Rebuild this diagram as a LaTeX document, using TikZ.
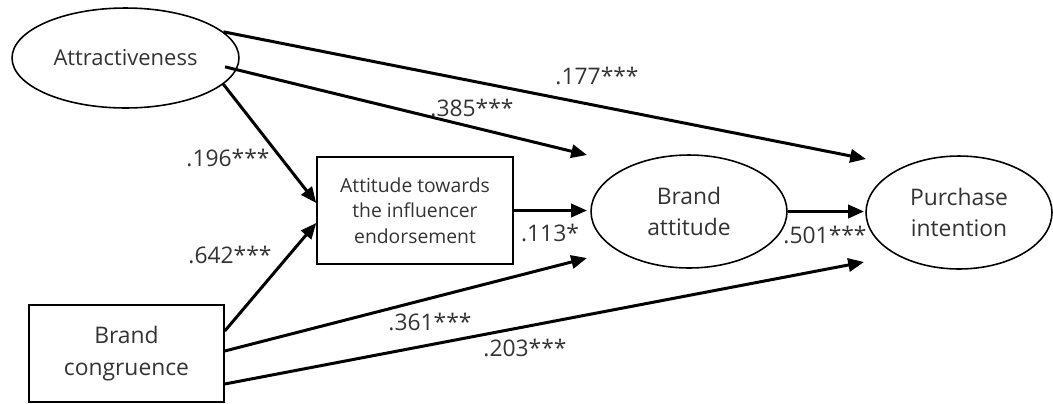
\documentclass[tikz,border=0pt]{standalone}
\usepackage{fontspec}
\setmainfont{Open Sans}
\usetikzlibrary{arrows.meta,shapes.geometric}

\begin{document}
\begin{tikzpicture}[
    x=0.02cm, y=-0.02cm,
    path/.style={line width=1.7pt, -{Triangle[length=9pt, width=7.5pt]}},
    latent/.style={ellipse, draw, line width=0.9pt, inner sep=0pt,
                   align=center, text=black!80,
                   font=\fontsize{13}{18}\selectfont},
    observed/.style={rectangle, draw, line width=0.9pt, inner sep=0pt,
                     align=center, text=black!80},
    coef/.style={font=\fontsize{13}{15}\selectfont, text=black!80, inner sep=0pt}
]
\useasboundingbox (0,0) rectangle (1053,403);

% =========================================================
% CONSTRUCTS
% =========================================================
\node[latent, minimum width=4.54cm, minimum height=2cm,
      font=\fontsize{12.5}{16}\selectfont] (attr) at (125.5,58) {Attractiveness};
\node[observed, minimum width=3.92cm, minimum height=2.14cm,
      font=\fontsize{11}{14.5}\selectfont] (att) at (415,210.5)
      {Attitude towards\\the influencer\\endorsement};
\node[latent, minimum width=3.92cm, minimum height=2.26cm] (ba) at (689,211.5)
      {Brand\\attitude};
\node[latent, minimum width=3.72cm, minimum height=2.26cm] (pi) at (959,212.5)
      {Purchase\\intention};
\node[observed, minimum width=3.9cm, minimum height=1.94cm,
      font=\fontsize{13}{18}\selectfont] (cong) at (126.5,353.5)
      {Brand\\congruence};

% free ends of the paths, short of the targets
\coordinate (baIn1) at (587,155);
\coordinate (baIn2) at (587,210.5);
\coordinate (baIn3) at (587,258);
\coordinate (piIn1) at (866,159);
\coordinate (piIn2) at (864,211.5);
\coordinate (piIn3) at (864,262);

% =========================================================
% PATHS
% =========================================================
\draw[path] (attr.15) -- (piIn1);
\draw[path, shorten <=-0.24cm] (attr.-6) -- (baIn1);
\draw[path] (attr.-15) -- ([yshift=0.15cm]att.west);
\draw[path] ([yshift=0.45cm]cong.east) -- ([yshift=-0.25cm]att.west);
\draw[path] (att.east) -- (baIn2);
\draw[path] ([yshift=0.05cm]cong.east) -- (baIn3);
\draw[path] ([yshift=-0.61cm]cong.east) -- (piIn3);
\draw[path] (ba.east) -- (piIn2);

% path coefficients
\node[coef] (c177) at (597,76)  {.177***};
\node[coef] (c385) at (472,108) {.385***};
\node[coef] (c196) at (228,158) {.196***};
\node[coef] (c642) at (230,255) {.642***};
\node[coef] (c113) at (550,233) {.113*};
\node[coef] (c501) at (825,235) {.501***};
\node[coef] (c361) at (430,322) {.361***};
\node[coef] (c203) at (525,348) {.203***};

\end{tikzpicture}
\end{document}
